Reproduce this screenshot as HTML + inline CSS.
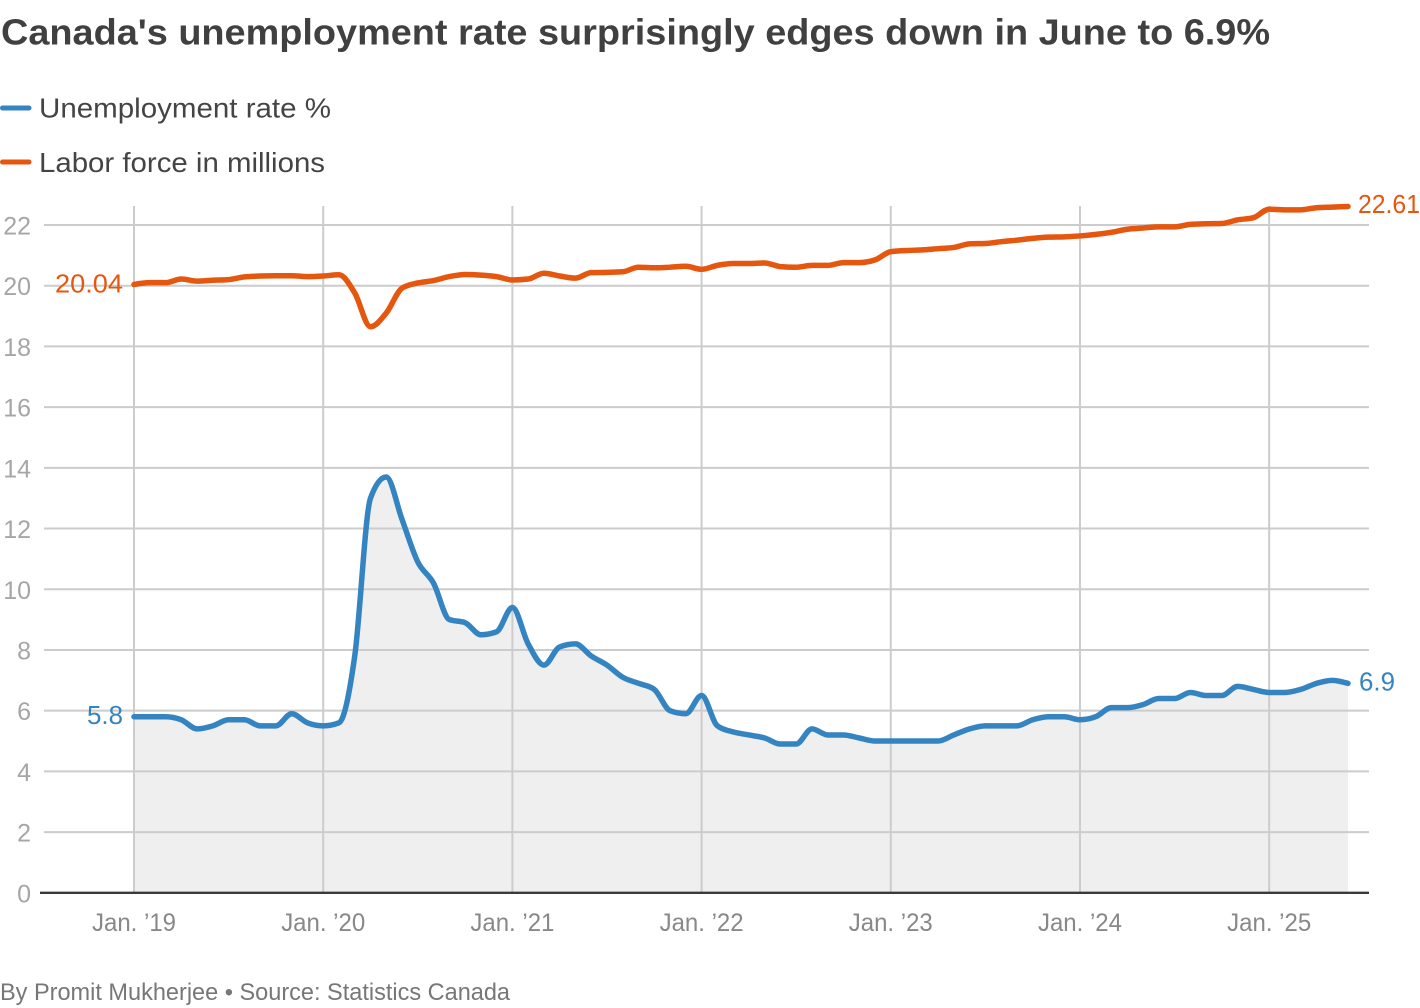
<!DOCTYPE html>
<html>
<head>
<meta charset="utf-8">
<style>
  html, body { margin:0; padding:0; background:#ffffff; }
  body { width:1420px; height:1008px; overflow:hidden; }
  svg { display:block; }
  text { font-family: "Liberation Sans", "DejaVu Sans", sans-serif; }
</style>
</head>
<body>
<svg id="chart" width="1420" height="1008" viewBox="0 0 1420 1008" xmlns="http://www.w3.org/2000/svg">
  <!-- Title -->
  <text x="1" y="44.5" font-size="36" font-weight="bold" fill="#404040" textLength="1269" lengthAdjust="spacingAndGlyphs">Canada's unemployment rate surprisingly edges down in June to 6.9%</text>

  <!-- Legend -->
  <line x1="2.5" y1="108" x2="29" y2="108" stroke="#3584c2" stroke-width="5" stroke-linecap="round"/>
  <text x="39" y="117.5" font-size="28" fill="#444444" textLength="292" lengthAdjust="spacingAndGlyphs">Unemployment rate %</text>
  <line x1="2.5" y1="162" x2="29" y2="162" stroke="#e5570f" stroke-width="5" stroke-linecap="round"/>
  <text x="39" y="172" font-size="28" fill="#444444" textLength="286" lengthAdjust="spacingAndGlyphs">Labor force in millions</text>

  <!-- area fill -->
  <path id="area" d="" fill="#efefef" stroke="none"/>

  <!-- grid -->
  <g id="grid" stroke="#cccccc" stroke-width="2"></g>
  <g id="yticks" font-size="25" fill="#a6a6a6" text-anchor="end"></g>

  <!-- axis -->
  <line x1="40" y1="892.8" x2="1369" y2="892.8" stroke="#3a3a3a" stroke-width="2.4"/>
  <g id="xticks" font-size="25" fill="#888888" text-anchor="middle"></g>

  <!-- series -->
  <path id="orange" d="" fill="none" stroke="#e5570f" stroke-width="5.5" stroke-linecap="round" stroke-linejoin="round"/>
  <path id="blue" d="" fill="none" stroke="#3584c2" stroke-width="5.5" stroke-linecap="round" stroke-linejoin="round"/>

  <!-- annotations -->
  <text x="55" y="292.5" font-size="26" fill="#e5570f" textLength="68" lengthAdjust="spacingAndGlyphs">20.04</text>
  <text x="1358" y="213" font-size="26" fill="#e5570f" textLength="62" lengthAdjust="spacingAndGlyphs">22.61</text>
  <text x="87" y="724" font-size="26" fill="#3584c2" textLength="36" lengthAdjust="spacingAndGlyphs">5.8</text>
  <text x="1359" y="690.5" font-size="26" fill="#3584c2" textLength="36" lengthAdjust="spacingAndGlyphs">6.9</text>

  <!-- byline -->
  <text x="0" y="1000" font-size="24" fill="#777777" textLength="510" lengthAdjust="spacingAndGlyphs">By Promit Mukherjee • Source: Statistics Canada</text>
</svg>
<script>
(function(){
  var NS = "http://www.w3.org/2000/svg";
  var X0 = 134, STEP = (1348-134)/77;
  var Y0 = 892.8, K = (892.8-225)/22;
  function xp(i){ return X0 + i*STEP; }
  function yp(v){ return Y0 - v*K; }

  var blue = [5.8,5.8,5.8,5.7,5.4,5.5,5.7,5.7,5.5,5.5,5.9,5.6,
              5.5,5.6,7.8,13.0,13.7,12.3,10.9,10.2,9.0,8.9,8.5,8.6,
              9.4,8.2,7.5,8.1,8.2,7.8,7.5,7.1,6.9,6.7,6.0,5.9,
              6.5,5.5,5.3,5.2,5.1,4.9,4.9,5.4,5.2,5.2,5.1,5.0,
              5.0,5.0,5.0,5.0,5.2,5.4,5.5,5.5,5.5,5.7,5.8,5.8,
              5.7,5.8,6.1,6.1,6.2,6.4,6.4,6.6,6.5,6.5,6.8,6.7,
              6.6,6.6,6.7,6.9,7.0,6.9];
  var orange = [20.04,20.10,20.10,20.22,20.15,20.18,20.20,20.29,20.32,20.33,20.33,20.30,
                20.32,20.36,19.76,18.65,19.10,19.92,20.09,20.17,20.30,20.37,20.35,20.30,
                20.19,20.22,20.41,20.32,20.25,20.43,20.44,20.46,20.61,20.59,20.61,20.64,
                20.54,20.67,20.73,20.73,20.75,20.63,20.61,20.67,20.67,20.76,20.76,20.85,
                21.12,21.16,21.18,21.22,21.26,21.38,21.39,21.45,21.50,21.56,21.60,21.61,
                21.64,21.69,21.76,21.86,21.90,21.94,21.94,22.02,22.04,22.05,22.17,22.24,
                22.52,22.50,22.50,22.57,22.59,22.61];

  function sign(x){ return x < 0 ? -1 : 1; }
  function monotone(vals){
    var n = vals.length, xs=[], ys=[], i;
    for(i=0;i<n;i++){ xs.push(xp(i)); ys.push(yp(vals[i])); }
    var t = new Array(n);
    for(i=1;i<n-1;i++){
      var h0 = xs[i]-xs[i-1], h1 = xs[i+1]-xs[i];
      var s0 = (ys[i]-ys[i-1])/h0, s1 = (ys[i+1]-ys[i])/h1;
      var p = (s0*h1 + s1*h0)/(h0+h1);
      t[i] = (sign(s0)+sign(s1))*Math.min(Math.abs(s0),Math.abs(s1),0.5*Math.abs(p)) || 0;
    }
    var hA = xs[1]-xs[0];
    t[0] = (3*(ys[1]-ys[0])/hA - t[1])/2;
    var hB = xs[n-1]-xs[n-2];
    t[n-1] = (3*(ys[n-1]-ys[n-2])/hB - t[n-2])/2;
    var d = "M" + xs[0].toFixed(2) + "," + ys[0].toFixed(2);
    for(i=0;i<n-1;i++){
      var dx = (xs[i+1]-xs[i])/3;
      d += "C" + (xs[i]+dx).toFixed(2) + "," + (ys[i]+dx*t[i]).toFixed(2) + " " +
           (xs[i+1]-dx).toFixed(2) + "," + (ys[i+1]-dx*t[i+1]).toFixed(2) + " " +
           xs[i+1].toFixed(2) + "," + ys[i+1].toFixed(2);
    }
    return d;
  }

  var bd = monotone(blue);
  document.getElementById("blue").setAttribute("d", bd);
  document.getElementById("orange").setAttribute("d", monotone(orange));
  document.getElementById("area").setAttribute("d",
    bd + "L" + xp(77).toFixed(2) + "," + Y0 + "L" + xp(0).toFixed(2) + "," + Y0 + "Z");

  var grid = document.getElementById("grid");
  var yt = document.getElementById("yticks");
  for(var v=2; v<=22; v+=2){
    var y = yp(v);
    var ln = document.createElementNS(NS,"line");
    ln.setAttribute("x1",44); ln.setAttribute("x2",1369);
    ln.setAttribute("y1",y); ln.setAttribute("y2",y);
    grid.appendChild(ln);
  }
  for(var v2=0; v2<=22; v2+=2){
    var tx = document.createElementNS(NS,"text");
    tx.setAttribute("x",31); tx.setAttribute("y",yp(v2)+9.5);
    tx.textContent = String(v2);
    yt.appendChild(tx);
  }
  var xt = document.getElementById("xticks");
  var yrs = ["19","20","21","22","23","24","25"];
  for(var k=0;k<7;k++){
    var x = xp(k*12);
    var vl = document.createElementNS(NS,"line");
    vl.setAttribute("x1",x); vl.setAttribute("x2",x);
    vl.setAttribute("y1",206); vl.setAttribute("y2",Y0);
    grid.appendChild(vl);
    var lt = document.createElementNS(NS,"text");
    lt.setAttribute("x",x); lt.setAttribute("y",931);
    lt.setAttribute("textLength",84); lt.setAttribute("lengthAdjust","spacingAndGlyphs");
    lt.textContent = "Jan. \u2019" + yrs[k];
    xt.appendChild(lt);
  }
})();
</script>
</body>
</html>
